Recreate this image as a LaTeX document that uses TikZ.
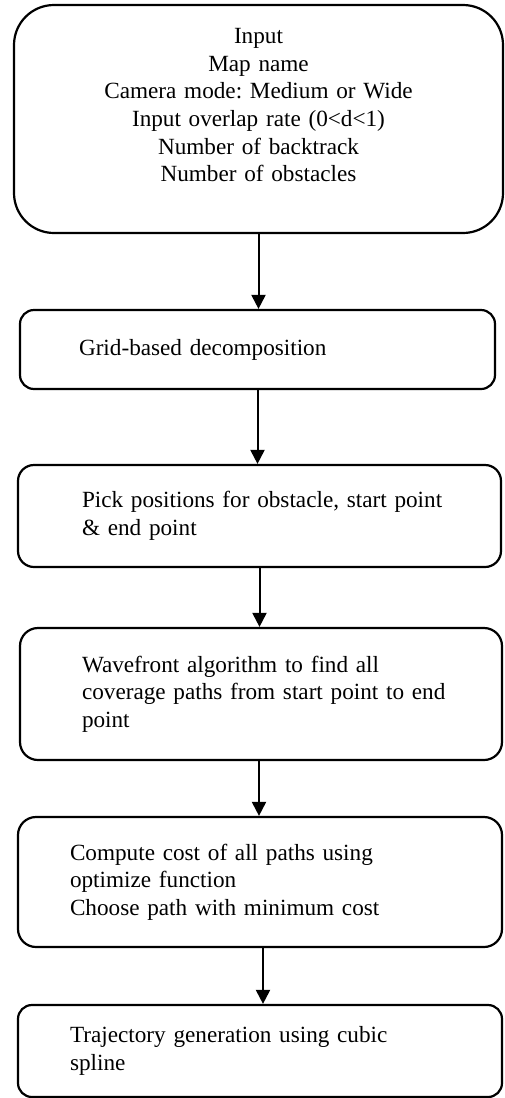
\documentclass[tikz,border=0pt]{standalone}
\usepackage{fontspec}
\setmainfont{Liberation Serif}
\usetikzlibrary{arrows.meta}
\frenchspacing
\tikzset{
  arw/.style={-{Triangle[length=7pt,width=7pt]},line width=1pt},
  blk/.style={draw,line width=1.1pt,rounded corners=7pt,align=left,inner sep=0pt,
    font=\fontsize{11.6}{13.8}\selectfont}
}
\begin{document}
\begin{tikzpicture}[x=0.5pt,y=-0.5pt]
\useasboundingbox (0,0) rectangle (504,1098);
% boxes
\node[blk,rounded corners=20pt,align=center,text width=230pt,minimum width=244.5pt,minimum height=114pt] (inp) at (258.5,119)
  {Input\\Map name\\Camera mode: Medium or Wide\\Input overlap rate (0<d<1)\\Number of backtrack\\Number of obstacles\\~};
\node[blk,text width=178.5pt,minimum width=237.5pt,minimum height=39.5pt] (grid) at (257.5,349.5)
  {Grid-based decomposition};
\node[blk,rounded corners=8pt,text width=177.5pt,minimum width=241.5pt,minimum height=51pt] (pick) at (259.5,516)
  {\mbox{Pick positions for obstacle, start point}\\\& end point};
\node[blk,rounded corners=9pt,text width=179pt,minimum width=241pt,minimum height=66pt] (wave) at (261,694)
  {Wavefront algorithm to find all\\\mbox{coverage paths from start point to end}\\point};
\node[blk,rounded corners=9pt,text width=190pt,minimum width=242pt,minimum height=65pt] (cost) at (260,882)
  {Compute cost of all paths using\\optimize function\\Choose path with minimum cost};
\node[blk,text width=190pt,minimum width=242pt,minimum height=46pt] (traj) at (260,1051)
  {Trajectory generation using cubic\\spline};
% arrows
\draw[arw] (inp.south) -- (inp.south |- grid.north);
\draw[arw] (grid.south) -- (grid.south |- pick.north);
\draw[arw] (pick.south) -- (pick.south |- wave.north);
\draw[arw] ([xshift=-1pt]wave.south) -- ([xshift=-1pt]wave.south |- cost.north);
\draw[arw] ([xshift=1.5pt]cost.south) -- ([xshift=1.5pt]cost.south |- traj.north);
\end{tikzpicture}
\end{document}
